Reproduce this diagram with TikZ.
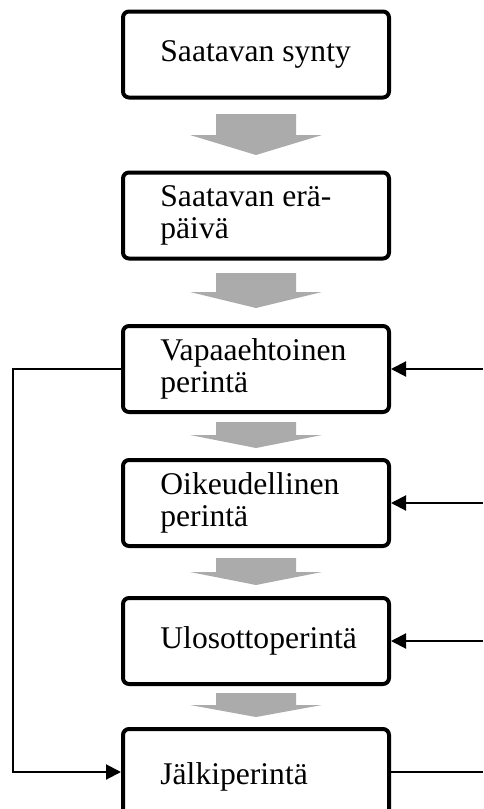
\documentclass[tikz,border=0pt]{standalone}
\usepackage{fontspec}
\setmainfont{Liberation Serif}
\usepackage{tikz}
\usetikzlibrary{arrows.meta,positioning}
\definecolor{flowgray}{HTML}{ABABAB}
\newcommand{\grayarrow}[3]{%
  \fill[flowgray] (216,#1) -- (296,#1) -- (296,#2) -- (322,#2) -- (256,#3) -- (190,#2) -- (216,#2) -- cycle;}

\begin{document}
\begin{tikzpicture}[
  x=0.5pt, y=-0.5pt,
  every node/.style={font=\fontsize{15.8}{16}\selectfont},
  stage/.style={draw=black, line width=2pt, rounded corners=3pt,
                minimum width=133pt, minimum height=43pt, inner sep=0pt},
  stagetext/.style={anchor=west, xshift=19.5pt, align=left, inner sep=0pt},
  arrow/.style={-{Triangle[length=7.5pt,width=7.5pt]}, line width=1pt},
  feed/.style={line width=1pt}
]
\useasboundingbox (0,0) rectangle (483,809);
\node[stage] (synty) at (256,54.5) {};
\node[stagetext] (synty-t) at (synty.west) {Saatavan synty};
\node[stage] (erapaiva) at (256,215.5) {};
\node[stagetext] (erapaiva-t) at (erapaiva.west) {Saatavan erä-\\päivä};
\node[stage] (vapaa) at (256,369) {};
\node[stagetext] (vapaa-t) at (vapaa.west) {Vapaaehtoinen\\perintä};
\node[stage] (oikeus) at (256,503) {};
\node[stagetext] (oikeus-t) at (oikeus.west) {Oikeudellinen\\perintä};
\node[stage] (ulosotto) at (256,641) {};
\node[stagetext] (ulosotto-t) at (ulosotto.west) {Ulosottoperintä};
\node[stage] (jalki) at (256,772) {};
\node[stagetext, yshift=-2.5pt] (jalki-t) at (jalki.west) {Jälkiperintä};
% gray block arrows
\grayarrow{114}{135}{155}
\grayarrow{273}{292}{308}
\grayarrow{422}{435}{448}
\grayarrow{558}{572}{585}
\grayarrow{693}{705}{717}
% feedback lines
\coordinate (leftrail) at (13,0);
\coordinate (rightrail) at (483,0);
\draw[arrow] (vapaa.west) -- (vapaa.west -| leftrail) |- (jalki.west);
\draw[arrow] (vapaa.east -| rightrail) -- (vapaa.east);
\draw[arrow] (oikeus.east -| rightrail) -- (oikeus.east);
\draw[arrow] (ulosotto.east -| rightrail) -- (ulosotto.east);
\draw[feed] (jalki.east) -- (jalki.east -| rightrail);
\end{tikzpicture}
\end{document}
